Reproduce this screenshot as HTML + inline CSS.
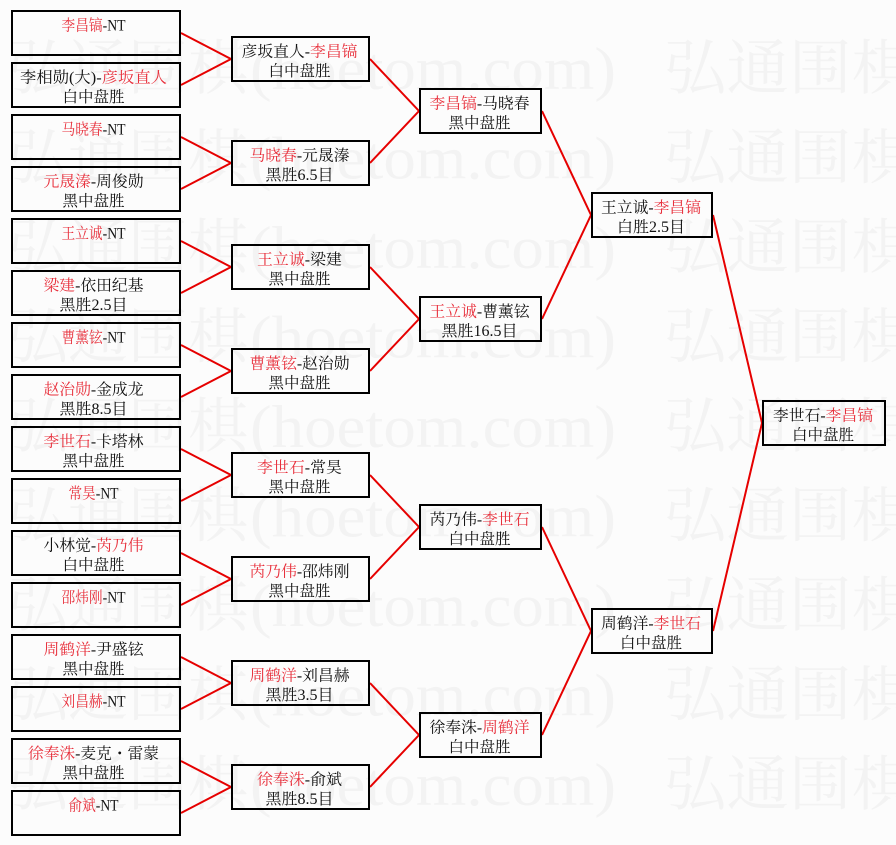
<!DOCTYPE html>
<html>
<head>
<meta charset="utf-8">
<style>
html,body{margin:0;padding:0;background:#fcfcfc;}
svg{display:block;}
.wm{font-family:"Liberation Serif","Noto Serif CJK SC",serif;font-size:60px;fill:#f3f3f3;}
.t{font-family:"Liberation Serif","Noto Serif CJK SC",serif;font-size:15.5px;fill:#111;}
.r{fill:#e8303c;}
rect{fill:none;stroke:#000;stroke-width:2;}
polyline{fill:none;stroke:#e60000;stroke-width:2;}
</style>
</head>
<body>
<svg width="896" height="845" viewBox="0 0 896 845" xmlns="http://www.w3.org/2000/svg">
<rect x="-2" y="-2" width="900" height="849" style="fill:#fcfcfc;stroke:none"/>
<!-- watermark -->
<g class="wm">
<text x="8" y="89" textLength="240" lengthAdjust="spacingAndGlyphs">弘通围棋</text><text x="250" y="89" textLength="366" lengthAdjust="spacingAndGlyphs">(hoetom.com)</text><text x="664" y="89" textLength="250" lengthAdjust="spacingAndGlyphs">弘通围棋</text>
<text x="8" y="178.5" textLength="240" lengthAdjust="spacingAndGlyphs">弘通围棋</text><text x="250" y="178.5" textLength="366" lengthAdjust="spacingAndGlyphs">(hoetom.com)</text><text x="664" y="178.5" textLength="250" lengthAdjust="spacingAndGlyphs">弘通围棋</text>
<text x="8" y="268" textLength="240" lengthAdjust="spacingAndGlyphs">弘通围棋</text><text x="250" y="268" textLength="366" lengthAdjust="spacingAndGlyphs">(hoetom.com)</text><text x="664" y="268" textLength="250" lengthAdjust="spacingAndGlyphs">弘通围棋</text>
<text x="8" y="357.5" textLength="240" lengthAdjust="spacingAndGlyphs">弘通围棋</text><text x="250" y="357.5" textLength="366" lengthAdjust="spacingAndGlyphs">(hoetom.com)</text><text x="664" y="357.5" textLength="250" lengthAdjust="spacingAndGlyphs">弘通围棋</text>
<text x="8" y="447" textLength="240" lengthAdjust="spacingAndGlyphs">弘通围棋</text><text x="250" y="447" textLength="366" lengthAdjust="spacingAndGlyphs">(hoetom.com)</text><text x="664" y="447" textLength="250" lengthAdjust="spacingAndGlyphs">弘通围棋</text>
<text x="8" y="536.5" textLength="240" lengthAdjust="spacingAndGlyphs">弘通围棋</text><text x="250" y="536.5" textLength="366" lengthAdjust="spacingAndGlyphs">(hoetom.com)</text><text x="664" y="536.5" textLength="250" lengthAdjust="spacingAndGlyphs">弘通围棋</text>
<text x="8" y="626" textLength="240" lengthAdjust="spacingAndGlyphs">弘通围棋</text><text x="250" y="626" textLength="366" lengthAdjust="spacingAndGlyphs">(hoetom.com)</text><text x="664" y="626" textLength="250" lengthAdjust="spacingAndGlyphs">弘通围棋</text>
<text x="8" y="715.5" textLength="240" lengthAdjust="spacingAndGlyphs">弘通围棋</text><text x="250" y="715.5" textLength="366" lengthAdjust="spacingAndGlyphs">(hoetom.com)</text><text x="664" y="715.5" textLength="250" lengthAdjust="spacingAndGlyphs">弘通围棋</text>
<text x="8" y="805" textLength="240" lengthAdjust="spacingAndGlyphs">弘通围棋</text><text x="250" y="805" textLength="366" lengthAdjust="spacingAndGlyphs">(hoetom.com)</text><text x="664" y="805" textLength="250" lengthAdjust="spacingAndGlyphs">弘通围棋</text>
</g>

<!-- connectors -->
<polyline points="181,33 231,59 181,85"/>
<polyline points="181,137 231,163 181,189"/>
<polyline points="181,241 231,267 181,293"/>
<polyline points="181,345 231,371 181,397"/>
<polyline points="181,449 231,475 181,501"/>
<polyline points="181,553 231,579 181,605"/>
<polyline points="181,657 231,683 181,709"/>
<polyline points="181,761 231,787 181,813"/>
<polyline points="370,59 419,111 370,163"/>
<polyline points="370,267 419,319 370,371"/>
<polyline points="370,475 419,527 370,579"/>
<polyline points="370,683 419,735 370,787"/>
<polyline points="542,111 591,215 542,319"/>
<polyline points="542,527 591,631 542,735"/>
<polyline points="713,215 762,423 713,631"/>

<!-- round 1 boxes -->
<rect x="12" y="11" width="168" height="44"/>
<rect x="12" y="63" width="168" height="44"/>
<rect x="12" y="115" width="168" height="44"/>
<rect x="12" y="167" width="168" height="44"/>
<rect x="12" y="219" width="168" height="44"/>
<rect x="12" y="271" width="168" height="44"/>
<rect x="12" y="323" width="168" height="44"/>
<rect x="12" y="375" width="168" height="44"/>
<rect x="12" y="427" width="168" height="44"/>
<rect x="12" y="479" width="168" height="44"/>
<rect x="12" y="531" width="168" height="44"/>
<rect x="12" y="583" width="168" height="44"/>
<rect x="12" y="635" width="168" height="44"/>
<rect x="12" y="687" width="168" height="44"/>
<rect x="12" y="739" width="168" height="44"/>
<rect x="12" y="791" width="168" height="44"/>
<!-- round 2 boxes -->
<rect x="232" y="37" width="137" height="44"/>
<rect x="232" y="141" width="137" height="44"/>
<rect x="232" y="245" width="137" height="44"/>
<rect x="232" y="349" width="137" height="44"/>
<rect x="232" y="453" width="137" height="44"/>
<rect x="232" y="557" width="137" height="44"/>
<rect x="232" y="661" width="137" height="44"/>
<rect x="232" y="765" width="137" height="44"/>
<!-- round 3 -->
<rect x="420" y="89" width="121" height="44"/>
<rect x="420" y="297" width="121" height="44"/>
<rect x="420" y="505" width="121" height="44"/>
<rect x="420" y="713" width="121" height="44"/>
<!-- round 4 -->
<rect x="592" y="193" width="120" height="44"/>
<rect x="592" y="609" width="120" height="44"/>
<!-- final -->
<rect x="763" y="401" width="122" height="44"/>

<g class="t" text-anchor="middle">
<!-- round 1 text -->
<text x="93.5" y="30.5" textLength="64" lengthAdjust="spacingAndGlyphs"><tspan class="r">李昌镐</tspan>-NT</text>

<text x="93.5" y="82.5" textLength="147" lengthAdjust="spacingAndGlyphs">李相勋(大)-<tspan class="r">彦坂直人</tspan></text>
<text x="93.5" y="102" textLength="62" lengthAdjust="spacingAndGlyphs">白中盘胜</text>

<text x="93.5" y="134.5" textLength="64" lengthAdjust="spacingAndGlyphs"><tspan class="r">马晓春</tspan>-NT</text>

<text x="93.5" y="186.5" textLength="100" lengthAdjust="spacingAndGlyphs"><tspan class="r">元晟溱</tspan>-周俊勋</text>
<text x="93.5" y="206" textLength="62" lengthAdjust="spacingAndGlyphs">黑中盘胜</text>

<text x="93.5" y="238.5" textLength="64" lengthAdjust="spacingAndGlyphs"><tspan class="r">王立诚</tspan>-NT</text>

<text x="93.5" y="290.5" textLength="100" lengthAdjust="spacingAndGlyphs"><tspan class="r">梁建</tspan>-依田纪基</text>
<text x="93.5" y="310" textLength="68" lengthAdjust="spacingAndGlyphs">黑胜2.5目</text>

<text x="93.5" y="342.5" textLength="64" lengthAdjust="spacingAndGlyphs"><tspan class="r">曹薰铉</tspan>-NT</text>

<text x="93.5" y="394.5" textLength="100" lengthAdjust="spacingAndGlyphs"><tspan class="r">赵治勋</tspan>-金成龙</text>
<text x="93.5" y="414" textLength="68" lengthAdjust="spacingAndGlyphs">黑胜8.5目</text>

<text x="93.5" y="446.5" textLength="100" lengthAdjust="spacingAndGlyphs"><tspan class="r">李世石</tspan>-卡塔林</text>
<text x="93.5" y="466" textLength="62" lengthAdjust="spacingAndGlyphs">黑中盘胜</text>

<text x="93.5" y="498.5" textLength="50" lengthAdjust="spacingAndGlyphs"><tspan class="r">常昊</tspan>-NT</text>

<text x="93.5" y="550.5" textLength="100" lengthAdjust="spacingAndGlyphs">小林觉-<tspan class="r">芮乃伟</tspan></text>
<text x="93.5" y="570" textLength="62" lengthAdjust="spacingAndGlyphs">白中盘胜</text>

<text x="93.5" y="602.5" textLength="64" lengthAdjust="spacingAndGlyphs"><tspan class="r">邵炜刚</tspan>-NT</text>

<text x="93.5" y="654.5" textLength="100" lengthAdjust="spacingAndGlyphs"><tspan class="r">周鹤洋</tspan>-尹盛铉</text>
<text x="93.5" y="674" textLength="62" lengthAdjust="spacingAndGlyphs">黑中盘胜</text>

<text x="93.5" y="706.5" textLength="64" lengthAdjust="spacingAndGlyphs"><tspan class="r">刘昌赫</tspan>-NT</text>

<text x="93.5" y="758.5" textLength="131" lengthAdjust="spacingAndGlyphs"><tspan class="r">徐奉洙</tspan>-麦克・雷蒙</text>
<text x="93.5" y="778" textLength="62" lengthAdjust="spacingAndGlyphs">黑中盘胜</text>

<text x="93.5" y="810.5" textLength="50" lengthAdjust="spacingAndGlyphs"><tspan class="r">俞斌</tspan>-NT</text>

<!-- round 2 text -->
<text x="299.5" y="56.5" textLength="116" lengthAdjust="spacingAndGlyphs">彦坂直人-<tspan class="r">李昌镐</tspan></text>
<text x="299.5" y="76" textLength="62" lengthAdjust="spacingAndGlyphs">白中盘胜</text>

<text x="299.5" y="160.5" textLength="100" lengthAdjust="spacingAndGlyphs"><tspan class="r">马晓春</tspan>-元晟溱</text>
<text x="299.5" y="180" textLength="68" lengthAdjust="spacingAndGlyphs">黑胜6.5目</text>

<text x="299.5" y="264.5" textLength="85" lengthAdjust="spacingAndGlyphs"><tspan class="r">王立诚</tspan>-梁建</text>
<text x="299.5" y="284" textLength="62" lengthAdjust="spacingAndGlyphs">黑中盘胜</text>

<text x="299.5" y="368.5" textLength="100" lengthAdjust="spacingAndGlyphs"><tspan class="r">曹薰铉</tspan>-赵治勋</text>
<text x="299.5" y="388" textLength="62" lengthAdjust="spacingAndGlyphs">黑中盘胜</text>

<text x="299.5" y="472.5" textLength="85" lengthAdjust="spacingAndGlyphs"><tspan class="r">李世石</tspan>-常昊</text>
<text x="299.5" y="492" textLength="62" lengthAdjust="spacingAndGlyphs">黑中盘胜</text>

<text x="299.5" y="576.5" textLength="100" lengthAdjust="spacingAndGlyphs"><tspan class="r">芮乃伟</tspan>-邵炜刚</text>
<text x="299.5" y="596" textLength="62" lengthAdjust="spacingAndGlyphs">黑中盘胜</text>

<text x="299.5" y="680.5" textLength="100" lengthAdjust="spacingAndGlyphs"><tspan class="r">周鹤洋</tspan>-刘昌赫</text>
<text x="299.5" y="700" textLength="68" lengthAdjust="spacingAndGlyphs">黑胜3.5目</text>

<text x="299.5" y="784.5" textLength="85" lengthAdjust="spacingAndGlyphs"><tspan class="r">徐奉洙</tspan>-俞斌</text>
<text x="299.5" y="804" textLength="68" lengthAdjust="spacingAndGlyphs">黑胜8.5目</text>

<!-- round 3 text -->
<text x="479.5" y="108.5" textLength="100" lengthAdjust="spacingAndGlyphs"><tspan class="r">李昌镐</tspan>-马晓春</text>
<text x="479.5" y="128" textLength="62" lengthAdjust="spacingAndGlyphs">黑中盘胜</text>

<text x="479.5" y="316.5" textLength="100" lengthAdjust="spacingAndGlyphs"><tspan class="r">王立诚</tspan>-曹薰铉</text>
<text x="479.5" y="336" textLength="76" lengthAdjust="spacingAndGlyphs">黑胜16.5目</text>

<text x="479.5" y="524.5" textLength="100" lengthAdjust="spacingAndGlyphs">芮乃伟-<tspan class="r">李世石</tspan></text>
<text x="479.5" y="544" textLength="62" lengthAdjust="spacingAndGlyphs">白中盘胜</text>

<text x="479.5" y="732.5" textLength="100" lengthAdjust="spacingAndGlyphs">徐奉洙-<tspan class="r">周鹤洋</tspan></text>
<text x="479.5" y="752" textLength="62" lengthAdjust="spacingAndGlyphs">白中盘胜</text>

<!-- round 4 text -->
<text x="651" y="212.5" textLength="100" lengthAdjust="spacingAndGlyphs">王立诚-<tspan class="r">李昌镐</tspan></text>
<text x="651" y="232" textLength="68" lengthAdjust="spacingAndGlyphs">白胜2.5目</text>

<text x="651" y="628.5" textLength="100" lengthAdjust="spacingAndGlyphs">周鹤洋-<tspan class="r">李世石</tspan></text>
<text x="651" y="648" textLength="62" lengthAdjust="spacingAndGlyphs">白中盘胜</text>

<!-- final text -->
<text x="823" y="420.5" textLength="100" lengthAdjust="spacingAndGlyphs">李世石-<tspan class="r">李昌镐</tspan></text>
<text x="823" y="440" textLength="62" lengthAdjust="spacingAndGlyphs">白中盘胜</text>
</g>
</svg>
</body>
</html>
